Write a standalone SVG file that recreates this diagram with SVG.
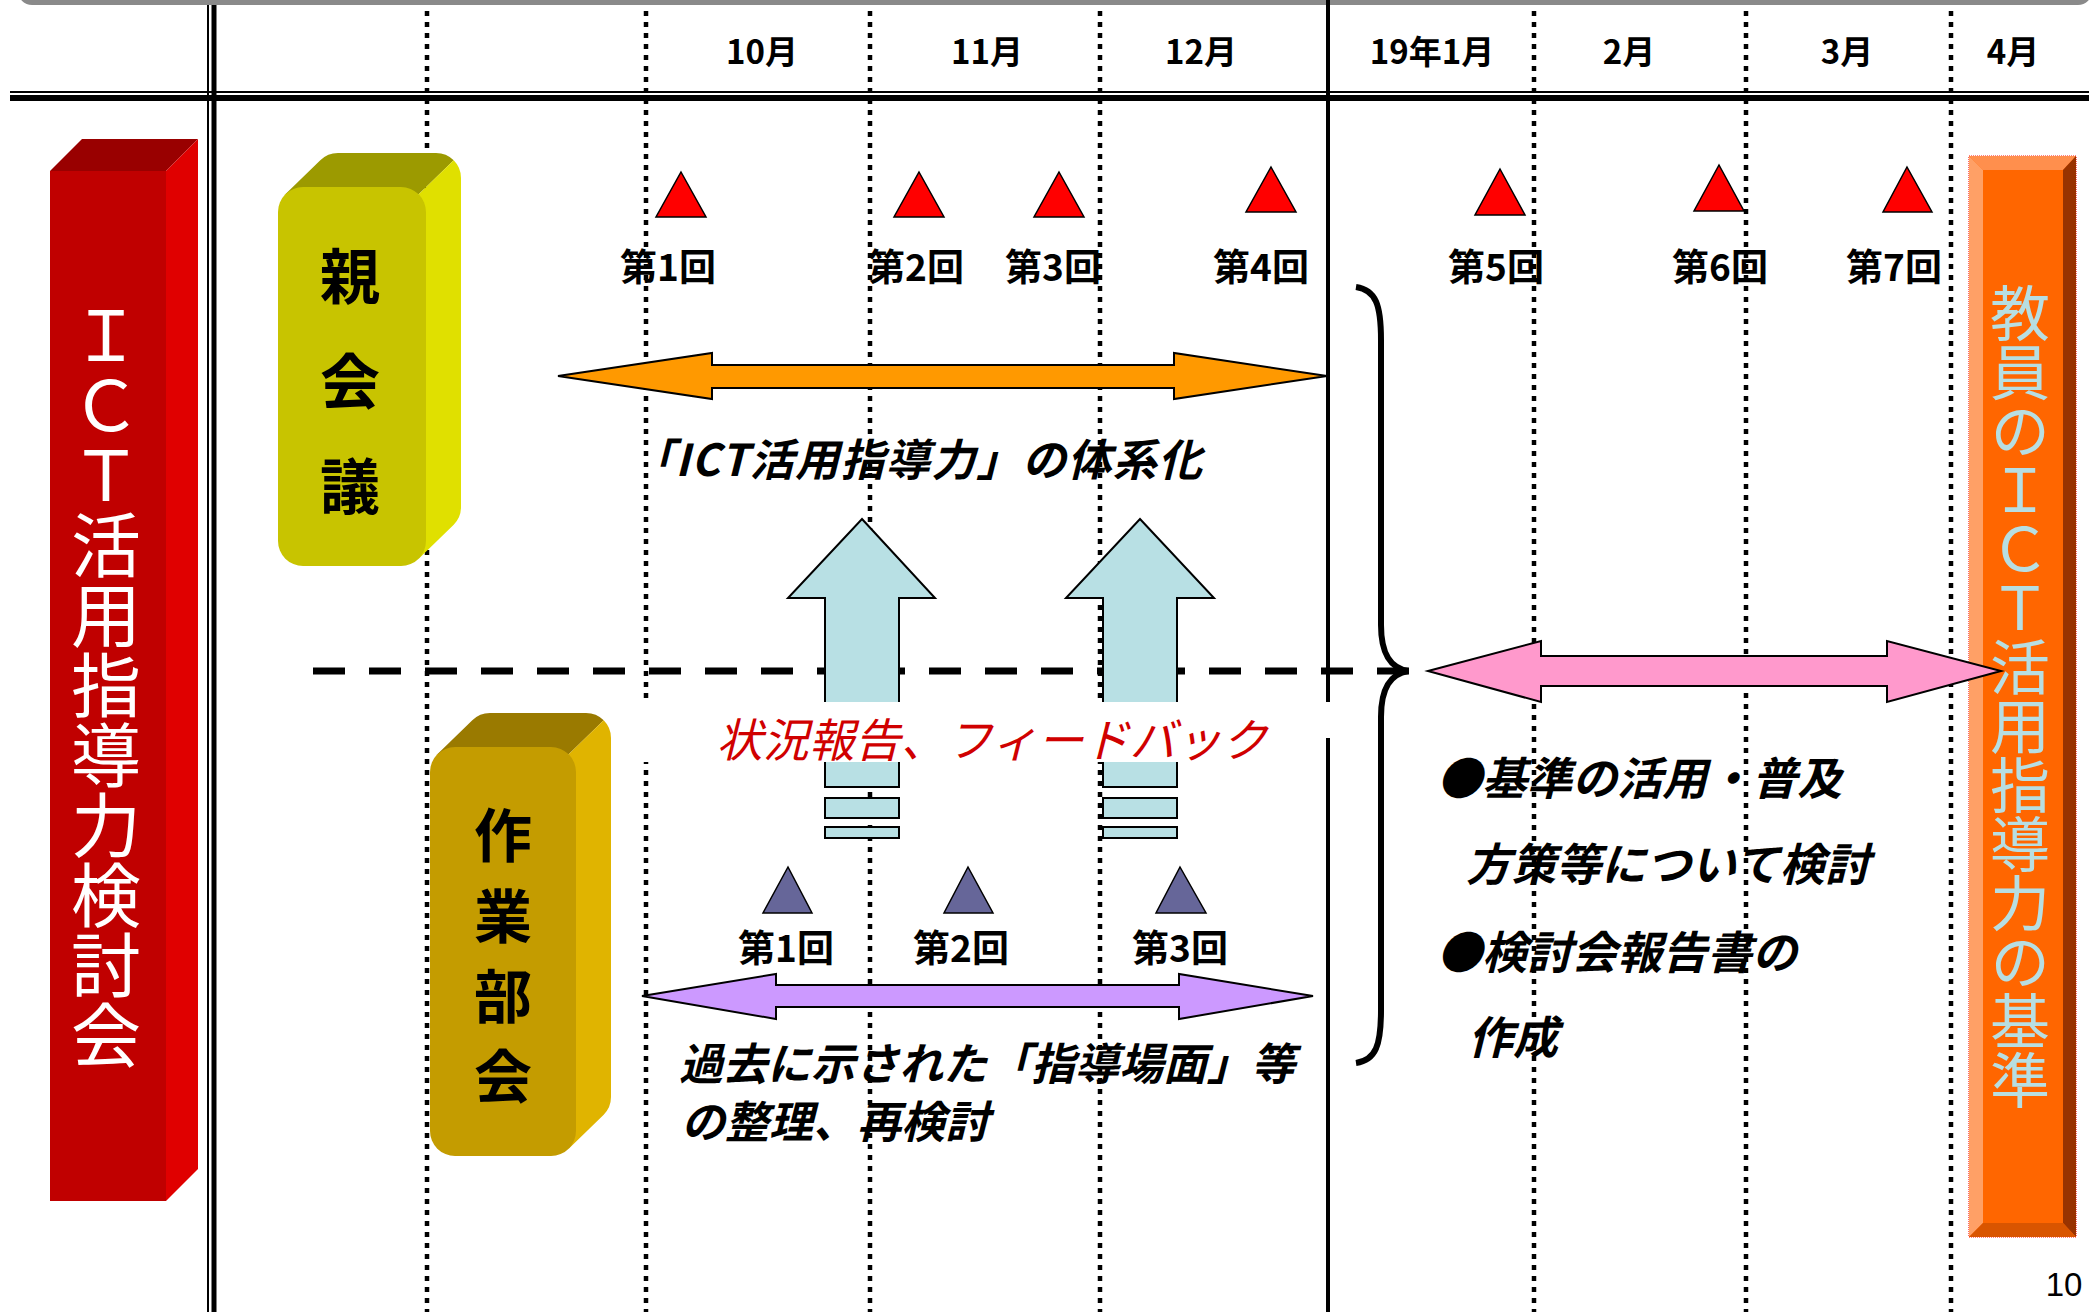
<svg xmlns="http://www.w3.org/2000/svg" width="2099" height="1312" viewBox="0 0 2099 1312">
<style>
text{font-family:"Noto Sans CJK JP","Noto Sans",sans-serif;dominant-baseline:central;text-anchor:middle}
.mon{font-size:33px;font-weight:bold;fill:#000}
.cnt{font-size:37px;font-weight:bold;fill:#000}
.dot{stroke:#000;stroke-width:4.5;stroke-dasharray:5 6;fill:none}
.tri-r{fill:#FF0000;stroke:#000;stroke-width:1.5}
.tri-b{fill:#666699;stroke:#000;stroke-width:1.5}
.arr{stroke:#000;stroke-width:2;stroke-linejoin:miter}
.up{fill:#B8E0E4;stroke:#000;stroke-width:2}
.vert{writing-mode:vertical-rl;text-anchor:start}
.big{font-size:70px;fill:#fff}
.std{font-size:60px;fill:#B7DEE2;letter-spacing:-1px}
.box{font-size:60px;font-weight:bold;fill:#000}
.it{font-style:italic;font-weight:bold;fill:#000;text-anchor:start}
</style>
<rect width="2099" height="1312" fill="#fff"/>

<g id="grid">
  <line x1="10" y1="92" x2="2089" y2="92" stroke="#000" stroke-width="2"/>
  <line x1="10" y1="98" x2="2089" y2="98" stroke="#000" stroke-width="6"/>
  <line x1="208" y1="0" x2="208" y2="1312" stroke="#000" stroke-width="2"/>
  <line x1="214" y1="0" x2="214" y2="1312" stroke="#000" stroke-width="5"/>
  <line class="dot" x1="427" y1="0" x2="427" y2="1312"/>
  <line class="dot" x1="646" y1="0" x2="646" y2="1312"/>
  <line class="dot" x1="870" y1="0" x2="870" y2="1312"/>
  <line class="dot" x1="1100" y1="0" x2="1100" y2="1312"/>
  <line class="dot" x1="1534" y1="0" x2="1534" y2="1312"/>
  <line class="dot" x1="1746" y1="0" x2="1746" y2="1312"/>
  <line class="dot" x1="1951" y1="0" x2="1951" y2="1312"/>
  <rect x="18" y="-30" width="2074" height="35" rx="14" fill="#8a8a8a"/>
</g>

<g id="months">
  <text class="mon" x="762" y="50">10月</text>
  <text class="mon" x="987" y="50">11月</text>
  <text class="mon" x="1201" y="50">12月</text>
  <text class="mon" x="1432" y="50">19年1月</text>
  <text class="mon" x="1629" y="50">2月</text>
  <text class="mon" x="1847" y="50">3月</text>
  <text class="mon" x="2013" y="50">4月</text>
</g>

<g id="node-kentoukai">
  <polygon points="50,171 82,139 198,139 166,171" fill="#990000"/>
  <polygon points="166,171 198,139 198,1169 166,1201" fill="#E00000"/>
  <rect x="50" y="171" width="116" height="1030" fill="#C00000"/>
  <text class="big vert" x="106" y="300">ＩＣＴ活用指導力検討会</text>
</g>

<g id="node-oyakaigi">
  <path d="M285.3,194.3 L320.3,160.3 A25,25 0 0 1 338,153 L436,153 A25,25 0 0 1 453.7,160.3 L418.7,194.3 Z" fill="#9C9A00"/>
  <path d="M453.7,160.3 A25,25 0 0 1 461,178 L461,507 A25,25 0 0 1 453.7,524.7 L418.7,558.7 L418.7,194.3 Z" fill="#E0E000"/>
  <rect x="278" y="187" width="148" height="379" rx="25" fill="#C8C400"/>
  <text class="box"><tspan x="350" y="272">親</tspan><tspan x="350" y="377">会</tspan><tspan x="350" y="482">議</tspan></text>
</g>

<g id="node-sagyoubukai">
  <path d="M437.3,754.3 L472.3,720.3 A25,25 0 0 1 490,713 L586,713 A25,25 0 0 1 603.7,720.3 L568.7,754.3 Z" fill="#9A7A00"/>
  <path d="M603.7,720.3 A25,25 0 0 1 611,738 L611,1097 A25,25 0 0 1 603.7,1114.7 L568.7,1148.7 L568.7,754.3 Z" fill="#E0B400"/>
  <rect x="430" y="747" width="146" height="409" rx="25" fill="#C49C00"/>
  <text class="box" style="font-size:58px"><tspan x="503" y="832">作</tspan><tspan x="503" y="913">業</tspan><tspan x="503" y="993">部</tspan><tspan x="503" y="1073">会</tspan></text>
</g>

<g id="node-kijun">
  <rect x="1969" y="156" width="107" height="1081" fill="#FF6600" stroke="#FF0000" stroke-width="1.2" stroke-dasharray="1 1"/>
  <polygon points="1969,156 2076,156 2063,170 1983,170" fill="#FF8F4D"/>
  <polygon points="1969,156 1983,170 1983,1223 1969,1237" fill="#FFA066"/>
  <polygon points="2076,156 2076,1237 2063,1223 2063,170" fill="#993300"/>
  <polygon points="1983,1223 2063,1223 2076,1237 1969,1237" fill="#D95500"/>
  <text class="std vert" x="2020" y="283">教員のＩＣＴ活用指導力の基準</text>
</g>

<g id="meetings">
  <polygon class="tri-r" points="681,172 706,217 656,217"/>
  <polygon class="tri-r" points="919,172 944,217 894,217"/>
  <polygon class="tri-r" points="1059,172 1084,217 1034,217"/>
  <polygon class="tri-r" points="1271,167 1296,212 1246,212"/>
  <polygon class="tri-r" points="1500,169 1525,215 1475,215"/>
  <polygon class="tri-r" points="1719,165 1744,211 1694,211"/>
  <polygon class="tri-r" points="1907,167 1932,212 1883,212"/>
  <text class="cnt" x="668" y="265">第1回</text>
  <text class="cnt" x="916" y="265">第2回</text>
  <text class="cnt" x="1053" y="265">第3回</text>
  <text class="cnt" x="1261" y="265">第4回</text>
  <text class="cnt" x="1496" y="265">第5回</text>
  <text class="cnt" x="1720" y="265">第6回</text>
  <text class="cnt" x="1894" y="265">第7回</text>
  <polygon class="tri-b" points="788,867 812,913 763,913"/>
  <polygon class="tri-b" points="968,867 993,913 944,913"/>
  <polygon class="tri-b" points="1180,867 1206,913 1156,913"/>
  <text class="cnt" x="786" y="946">第1回</text>
  <text class="cnt" x="961" y="946">第2回</text>
  <text class="cnt" x="1180" y="946">第3回</text>
</g>

<g id="connectors">
  <line x1="313" y1="671" x2="1410" y2="671" stroke="#000" stroke-width="7" stroke-dasharray="32 24"/>
  <polygon class="arr" fill="#FF9900" points="558,376 712,353 712,365 1174,365 1174,353 1327,376 1174,399 1174,388 712,388 712,399"/>
  <polygon class="up" points="862,519 935,598 899,598 899,787 825,787 825,598 788,598"/>
  <rect class="up" x="825" y="798" width="74" height="20"/>
  <rect class="up" x="825" y="827" width="74" height="11"/>
  <polygon class="up" points="1140,519 1214,598 1177,598 1177,787 1103,787 1103,598 1066,598"/>
  <rect class="up" x="1103" y="798" width="74" height="20"/>
  <rect class="up" x="1103" y="827" width="74" height="11"/>
  <polygon class="arr" fill="#CC99FF" points="642,996 776,974 776,985 1179,985 1179,974 1313,996 1179,1019 1179,1007 776,1007 776,1019"/>
  <path d="M1356,287 C1376,290 1381,305 1381,340 L1381,625 C1381,655 1391,668 1408,671 C1391,674 1381,687 1381,717 L1381,1010 C1381,1045 1376,1060 1356,1063" fill="none" stroke="#000" stroke-width="6"/>
  <polygon class="arr" fill="#FF99CC" points="1428,671 1541,641 1541,656 1887,656 1887,641 2001,671 1887,702 1887,686 1541,686 1541,702"/>
</g>

<rect x="640" y="702" width="690" height="60" fill="#fff"/>
<g id="timeline-divider">
  <line x1="1328" y1="0" x2="1328" y2="702" stroke="#000" stroke-width="4"/>
  <line x1="1328" y1="738" x2="1328" y2="1312" stroke="#000" stroke-width="4"/>
</g>

<g id="labels">
  <text class="it" x="630" y="457" style="font-size:44px" textLength="572" lengthAdjust="spacing">「ICT活用指導力」の体系化</text>
  <text x="992" y="737" style="font-size:46px;font-style:italic;fill:#D00000">状況報告、フィードバック</text>
  <text class="it" x="679" y="1061" style="font-size:44px">過去に示された「指導場面」等</text>
  <text class="it" x="681" y="1119" style="font-size:44px">の整理、再検討</text>
  <text class="it" x="1437" y="775" style="font-size:45px">●基準の活用・普及</text>
  <text class="it" x="1466" y="861" style="font-size:45px">方策等について検討</text>
  <text class="it" x="1437" y="949" style="font-size:45px">●検討会報告書の</text>
  <text class="it" x="1468" y="1034" style="font-size:45px">作成</text>
  <text x="2064" y="1284" style="font-family:'Liberation Sans',Arial,sans-serif;font-size:33px;fill:#000">10</text>
</g>
</svg>
